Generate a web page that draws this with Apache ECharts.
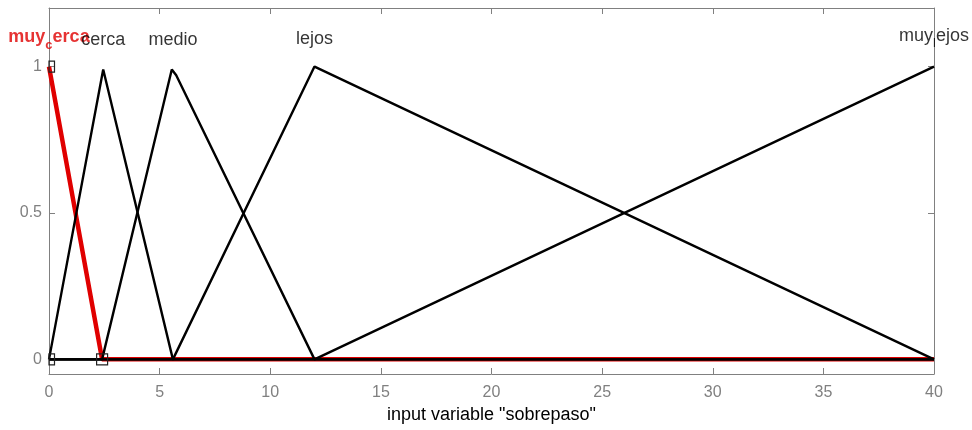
<!DOCTYPE html>
<html><head><meta charset="utf-8">
<script src="https://cdn.jsdelivr.net/npm/echarts@6/dist/echarts.min.js"></script>
<style>html,body{margin:0;padding:0;background:#fff}#c{width:972px;height:430px}</style>
</head><body><div id="c"></div>
<script>
// Membership functions of input variable "sobrepaso"
const mfNames = ['muy_cerca', 'cerca', 'medio', 'lejos', 'muy_lejos'];
const muyCercaX = [0, 2.4, 40];
const muyCercaY = [1, 0, 0];
const cercaX = [0, 2.45, 5.6, 40];
const cercaY = [0, 0.99, 0, 0];
const medioX = [0, 2.4, 5.55, 5.75, 12, 40];
const medioY = [0, 0, 0.99, 0.97, 0, 0];
const lejosX = [0, 5.6, 12, 40];
const lejosY = [0, 0, 1, 0];
const muyLejosX = [0, 12, 40];
const muyLejosY = [0, 0, 1];
const peakX = [0, 2.45, 5.6, 12, 40];
const labelY = [1.1, 1.09, 1.09, 1.095, 1.105];
const squareX = [0, 0, 2.4];
const squareY = [1, 0, 0];
const xTicks = [0, 5, 10, 15, 20, 25, 30, 35, 40];
const yTicks = [0, 0.5, 1];

const zip = (xs, ys) => xs.map((x, i) => [x, ys[i]]);
const grey = '#808080';
const font = 'Liberation Sans, Arial, sans-serif';

const chart = echarts.init(document.getElementById('c'));
const lineBase = { type: 'line', showSymbol: false, animation: false, silent: true };
chart.setOption({
  animation: false,
  grid: { left: 49, right: 38, top: 8, bottom: 56, outerBoundsMode: 'none', containLabel: false },
  xAxis: [{
    type: 'value', min: 0, max: 40, interval: 5, position: 'bottom',
    axisLine: { show: true, onZero: false, lineStyle: { color: grey, width: 1 } },
    axisTick: { show: true, inside: true, length: 6, lineStyle: { color: grey } },
    axisLabel: { color: grey, fontSize: 16, fontFamily: font, margin: 11 },
    splitLine: { show: false },
    name: 'input variable "sobrepaso"', nameLocation: 'middle', nameGap: 30,
    nameTextStyle: { color: '#000', fontSize: 18, fontFamily: font }
  }, {
    type: 'value', min: 0, max: 40, interval: 5, position: 'top',
    axisLine: { show: true, onZero: false, lineStyle: { color: grey, width: 1 } },
    axisTick: { show: true, inside: true, length: 6, lineStyle: { color: grey } },
    axisLabel: { show: false }, splitLine: { show: false }
  }],
  yAxis: [{
    type: 'value', min: -0.05, max: 1.2, position: 'left',
    axisLine: { show: true, onZero: false, lineStyle: { color: grey, width: 1 } },
    axisTick: { show: true, inside: true, length: 6, lineStyle: { color: grey }, customValues: yTicks },
    axisLabel: { color: grey, fontSize: 16, fontFamily: font, margin: 7, customValues: yTicks },
    splitLine: { show: false }
  }, {
    type: 'value', min: -0.05, max: 1.2, position: 'right',
    axisLine: { show: true, onZero: false, lineStyle: { color: grey, width: 1 } },
    axisTick: { show: true, inside: true, length: 6, lineStyle: { color: grey }, customValues: yTicks },
    axisLabel: { show: false }, splitLine: { show: false }
  }],
  series: [
    Object.assign({}, lineBase, { name: mfNames[0], data: zip(muyCercaX, muyCercaY), lineStyle: { color: '#e00000', width: 4.5 }, z: 1 }),
    Object.assign({}, lineBase, { name: mfNames[1], data: zip(cercaX, cercaY), lineStyle: { color: '#000', width: 2.4 }, z: 2 }),
    Object.assign({}, lineBase, { name: mfNames[2], data: zip(medioX, medioY), lineStyle: { color: '#000', width: 2.4 }, z: 2 }),
    Object.assign({}, lineBase, { name: mfNames[3], data: zip(lejosX, lejosY), lineStyle: { color: '#000', width: 2.4 }, z: 2 }),
    Object.assign({}, lineBase, { name: mfNames[4], data: zip(muyLejosX, muyLejosY), lineStyle: { color: '#000', width: 2.4 }, z: 2 }),
    {
      type: 'custom', silent: true, z: 3,
      data: zip(squareX, squareY),
      renderItem: (params, api) => {
        const c = api.coord([api.value(0), api.value(1)]);
        const s = 11;
        const cs = params.coordSys;
        const r = echarts.graphic.clipRectByRect(
          { x: c[0] - s / 2, y: c[1] - s / 2, width: s, height: s },
          { x: cs.x, y: cs.y, width: cs.width, height: cs.height });
        if (!r) return null;
        return { type: 'rect', shape: r, style: { fill: 'none', stroke: '#222', lineWidth: 1.2 } };
      }
    },
    {
      type: 'scatter', silent: true, z: 4, symbolSize: 0,
      data: mfNames.map((n, i) => ({ value: [peakX[i], labelY[i]], name: n })),
      label: {
        show: true, position: 'inside',
        formatter: p => {
          const n = p.name;
          if (n === 'muy_cerca') return '{r|muy}{rs|c}{r|erca}';
          if (n === 'muy_lejos') return '{b|muy}{bs|l}{b|ejos}';
          return '{b|' + n + '}';
        },
        rich: {
          r: { color: '#e00000', fontWeight: 'bold', fontSize: 18, fontFamily: font },
          rs: { color: '#e00000', fontWeight: 'bold', fontSize: 13, fontFamily: font, padding: [16, 0, 0, 0] },
          b: { color: '#000', fontSize: 18, fontFamily: font },
          bs: { color: '#000', fontSize: 13, fontFamily: font, padding: [16, 0, 0, 0] }
        }
      }
    }
  ]
});
</script></body></html>
